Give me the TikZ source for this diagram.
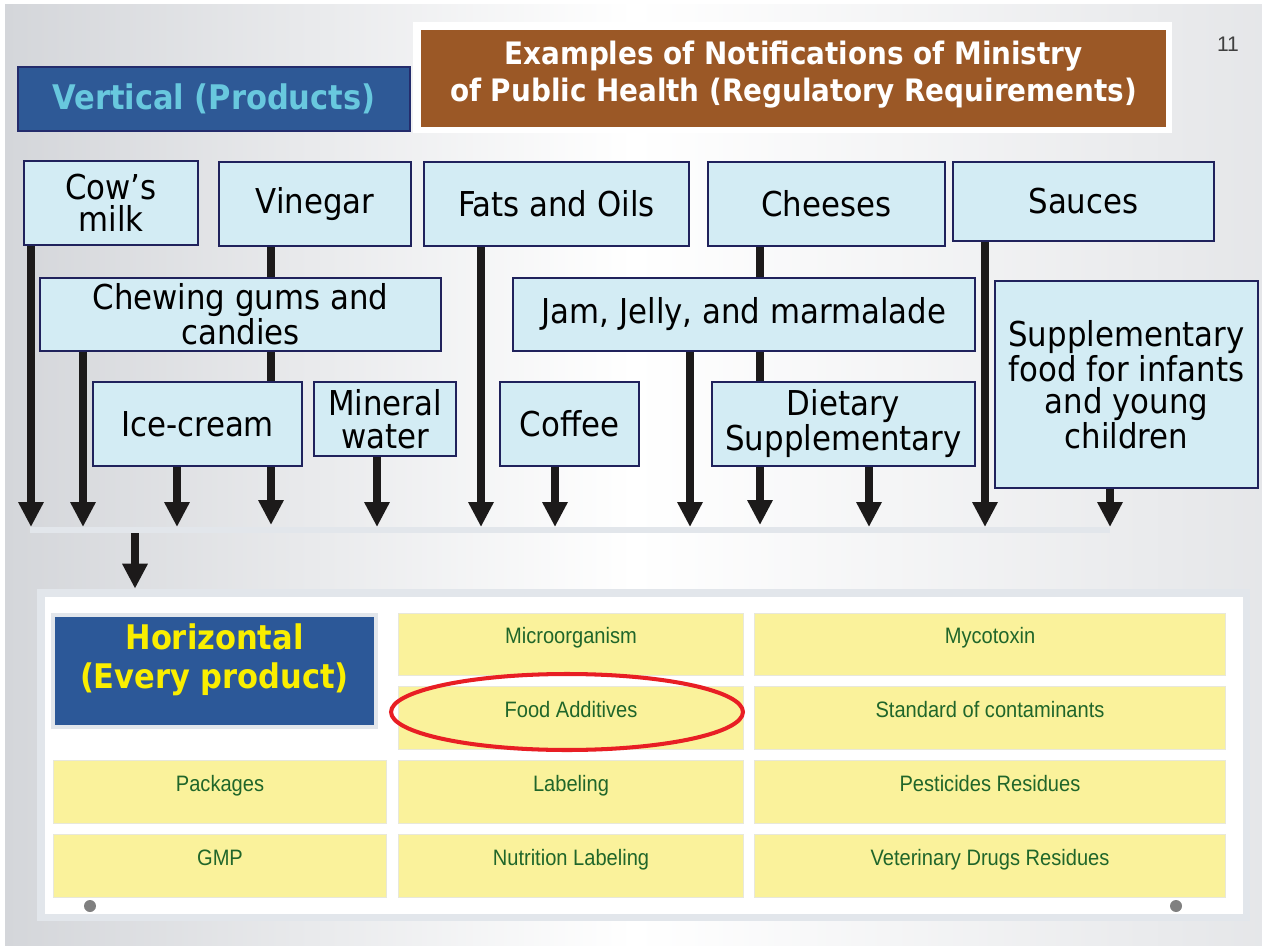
\documentclass[tikz,border=0pt]{standalone}
\usepackage{fontspec}
\setmainfont{DejaVu Sans Condensed}
\newfontfamily\cellfont[FakeStretch=0.9]{Liberation Sans}
\newfontfamily\numfont{Liberation Sans}
\usepackage{tikz}
\usetikzlibrary{arrows.meta,positioning,shapes.geometric}
\usepackage{xcolor}
\definecolor{prodfill}{RGB}{211,236,244}
\definecolor{prodline}{RGB}{32,34,92}
\definecolor{titlebrown}{RGB}{155,88,38}
\definecolor{vertblue}{RGB}{46,89,150}
\definecolor{vertline}{RGB}{36,44,108}
\definecolor{verttext}{RGB}{104,200,222}
\definecolor{horizblue}{RGB}{44,88,152}
\definecolor{horizyellow}{RGB}{250,238,0}
\definecolor{cellfill}{RGB}{250,242,155}
\definecolor{celline}{RGB}{232,232,218}
\definecolor{cellgreen}{RGB}{32,102,42}
\definecolor{panelgray}{RGB}{226,230,235}
\definecolor{slidegray}{RGB}{212,214,218}
\definecolor{arrblack}{RGB}{28,26,26}
\definecolor{markred}{RGB}{232,30,36}
\pgfdeclarelayer{bg}
\pgfdeclarelayer{behind}
\pgfsetlayers{bg,behind,main}
\tikzset{
    prodbox/.style={rectangle, draw=prodline, fill=prodfill, line width=0.7pt, align=center, inner sep=0pt, font=\fontsize{19.5}{18.5}\selectfont},
    cellbox/.style={rectangle, draw=celline, fill=cellfill, line width=0.6pt, minimum height=1.25cm, text=cellgreen, font=\cellfont\fontsize{12.7}{14}\selectfont, text height=0.3cm, text depth=0.34cm},
    arr/.style={line width=0.15cm, draw=arrblack, -{Triangle[length=0.5cm, width=0.48cm]}},
}

\begin{document}
\begin{tikzpicture}[x=0.02cm, y=-0.02cm]
    \useasboundingbox (0,0) rectangle (1262,946);
    % slide background
    \begin{pgfonlayer}{bg}
        \fill[white] (0,0) rectangle (1262,946);
        \shade[left color=slidegray, right color=slidegray!60, middle color=white] (5,5) rectangle (1262,946);
    \end{pgfonlayer}

    % titles
    \node[rectangle, fill=white, minimum width=15.18cm, minimum height=2.22cm] (titleframe) at (792.5,77.5) {};
    \node[rectangle, fill=titlebrown, minimum width=14.9cm, minimum height=1.94cm] (title) at (793.5,78.5) {};
    \node[text=white, align=center, font=\bfseries\fontsize{17.6}{21}\selectfont] (titletext)
          at ([yshift=0.07cm]title.center) {Examples of Notifications of Ministry\\of Public Health (Regulatory Requirements)};
    \node[font=\numfont\fontsize{12}{14}\selectfont, text=black!75] (pagenum) at (1228,44) {11};
    \node[rectangle, draw=vertline, fill=vertblue, line width=1.6pt, minimum width=7.84cm, minimum height=1.28cm,
          text=verttext, font=\bfseries\fontsize{19.3}{22}\selectfont] (vertical) at (214,99) {Vertical (Products)};

    % product boxes, first row
    \node[prodbox, minimum width=3.48cm, minimum height=1.68cm] (milk) at (111,203) {Cow’s\\milk};
    \node[prodbox, minimum width=3.84cm, minimum height=1.68cm] (vinegar) at (315,204) {Vinegar};
    \node[prodbox, minimum width=5.30cm, minimum height=1.68cm] (fats) at (556.5,204) {Fats and Oils};
    \node[prodbox, minimum width=4.74cm, minimum height=1.68cm] (cheeses) at (826.5,204) {Cheeses};
    \node[prodbox, minimum width=5.22cm, minimum height=1.58cm] (sauces) at (1083.5,201.5) {Sauces};
    % second row
    \node[prodbox, minimum width=8.02cm, minimum height=1.46cm] (chew) at (240.5,314.5) {Chewing gums and\\candies};
    \node[prodbox, minimum width=9.24cm, minimum height=1.46cm] (jam) at (744,314.5) {Jam, Jelly, and marmalade};
    \node[prodbox, minimum width=5.26cm, minimum height=4.14cm] (infant) at (1126.5,384.5)
          {Supplementary\\food for infants\\and young\\children};
    % third row
    \node[prodbox, minimum width=4.18cm, minimum height=1.68cm] (ice) at (197.5,424) {Ice-cream};
    \node[prodbox, minimum width=2.84cm, minimum height=1.48cm] (mineral) at (385,419) {Mineral\\water};
    \node[prodbox, minimum width=2.78cm, minimum height=1.68cm] (coffee) at (569.5,424) {Coffee};
    \node[prodbox, minimum width=5.26cm, minimum height=1.68cm] (dietary) at (843.5,424) {Dietary\\Supplementary};

    % collecting bar
    \node[rectangle, fill=panelgray, minimum width=21.6cm, minimum height=0.12cm, inner sep=0pt] (bar) at (570,530) {};

    % arrows into the bar
    \foreach \src/\x [count=\i] in {milk/31, chew/83, ice/177, mineral/377, fats/481, coffee/555, jam/690, dietary/869, sauces/985, infant/1110} {
        \coordinate (t\i) at (\x,527);
        \draw[arr] (\src.south -| t\i) -- (t\i);
    }
    % lines running behind the boxes
    \begin{pgfonlayer}{behind}
        \foreach \src/\x in {vinegar/271, cheeses/760} {
            \coordinate (b\src) at (\x,525);
            \draw[arr] (\src.south -| b\src) -- (b\src);
        }
    \end{pgfonlayer}

    % horizontal panel
    \node[rectangle, fill=panelgray, minimum width=24.26cm, minimum height=6.64cm] (panel) at (643.5,755) {};
    \node[rectangle, fill=white, minimum width=23.96cm, minimum height=6.34cm] (panelin) at (644,755.5) {};
    \coordinate (drop) at (135,533);
    \draw[arr] (drop) -- (panel.north -| drop);

    \node[rectangle, fill=horizblue, draw=panelgray, line width=2.5pt, minimum width=6.46cm, minimum height=2.24cm] (horiz) at (214.5,671) {};
    \node[text=horizyellow, align=center, font=\bfseries\fontsize{19.3}{22}\selectfont] (horiztext)
          at ([yshift=0.22cm]horiz.center) {Horizontal\\(Every product)};

    % table of cells
    \node[cellbox, minimum width=6.92cm] (micro) at (571,644.5) {Microorganism};
    \node[cellbox, minimum width=9.44cm] (myco) at (990,644.5) {Mycotoxin};
    \node[cellbox, minimum width=6.92cm] (additive) at (571,718) {Food Additives};
    \node[cellbox, minimum width=9.44cm] (contam) at (990,718) {Standard of contaminants};
    \node[cellbox, minimum width=6.68cm] (pack) at (220,792) {Packages};
    \node[cellbox, minimum width=6.92cm] (label) at (571,792) {Labeling};
    \node[cellbox, minimum width=9.44cm] (pest) at (990,792) {Pesticides Residues};
    \node[cellbox, minimum width=6.68cm] (gmp) at (220,866) {GMP};
    \node[cellbox, minimum width=6.92cm] (nutri) at (571,866) {Nutrition Labeling};
    \node[cellbox, minimum width=9.44cm] (vet) at (990,866) {Veterinary Drugs Residues};

    % highlight
    \draw[markred, line width=2.3pt] ([xshift=-0.08cm, yshift=0.12cm]additive.center) ellipse [x radius=3.52cm, y radius=0.76cm];

    % corner dots
    \fill[black!50] (90,906) circle [radius=0.12cm];
    \fill[black!50] (1176,906) circle [radius=0.12cm];
\end{tikzpicture}
\end{document}
